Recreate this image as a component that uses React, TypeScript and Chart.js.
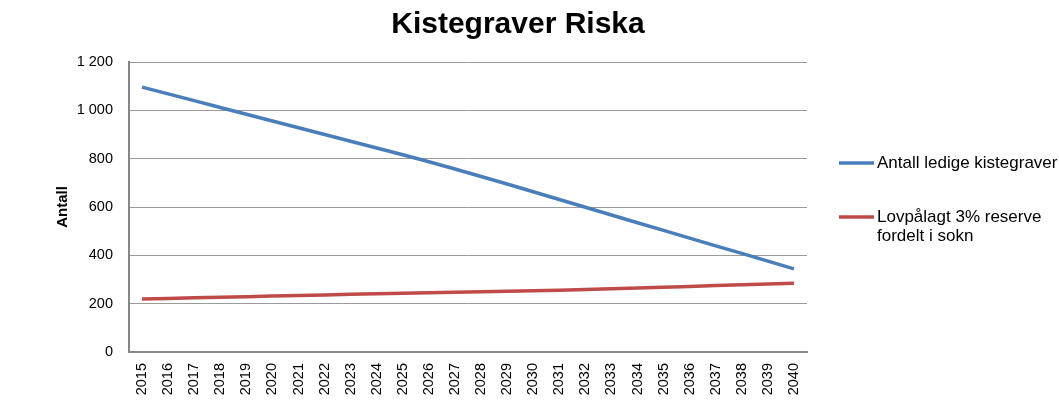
import React, { useEffect, useRef } from "react";
import { Chart, registerables } from "chart.js";

Chart.register(...registerables);

const chartTitle = "Kistegraver Riska";
const yAxisTitle = "Antall";
const years = [
  "2015", "2016", "2017", "2018", "2019", "2020", "2021", "2022", "2023",
  "2024", "2025", "2026", "2027", "2028", "2029", "2030", "2031", "2032",
  "2033", "2034", "2035", "2036", "2037", "2038", "2039", "2040",
];
const seriesNames = ["Antall ledige kistegraver", "Lovpålagt 3% reserve fordelt i sokn"];
const ledigeKistegraver = [
  1096, 1068, 1040, 1012, 984, 956, 928, 900, 872, 844, 816, 787, 757,
  726, 695, 663, 631, 599, 567, 535, 503, 471, 439, 408, 376, 344,
];
const reserve = [
  219, 221, 224, 227, 229, 232, 234, 236, 239, 241, 243, 245, 247,
  249, 251, 253, 256, 259, 262, 265, 268, 271, 275, 278, 281, 284,
];
const yTicks = [0, 200, 400, 600, 800, 1000, 1200];
const seriesColors = ["#4A7EBB", "#BE4B48"];

const FONT = '"Liberation Sans", Arial, sans-serif';

function formatThousands(v: number): string {
  return String(v).replace(/\B(?=(\d{3})+(?!\d))/g, " ");
}

const overlayPlugin = {
  id: "overlay",
  afterDraw(chart: any) {
    const ctx = chart.ctx as CanvasRenderingContext2D;
    ctx.save();
    // Title
    ctx.font = `bold 30px ${FONT}`;
    ctx.fillStyle = "#000";
    ctx.textAlign = "center";
    ctx.textBaseline = "alphabetic";
    ctx.fillText(chartTitle, 518, 33);

    // Legend
    ctx.font = `17px ${FONT}`;
    ctx.textAlign = "left";
    ctx.textBaseline = "middle";
    const startYs = [163, 217];
    const lineH = 19;
    chart.data.datasets.forEach((ds: any, i: number) => {
      const y = startYs[i];
      ctx.strokeStyle = ds.borderColor;
      ctx.lineWidth = 3.5;
      ctx.beginPath();
      ctx.moveTo(839, y);
      ctx.lineTo(874, y);
      ctx.stroke();
      const words = String(ds.label).split(" ");
      const lines: string[] = [];
      let cur = "";
      for (const w of words) {
        const test = cur ? cur + " " + w : w;
        if (cur && ctx.measureText(test).width > 200) {
          lines.push(cur);
          cur = w;
        } else {
          cur = test;
        }
      }
      if (cur) lines.push(cur);
      ctx.fillStyle = "#000";
      lines.forEach((ln, j) => ctx.fillText(ln, 877, y + j * lineH));
    });
    ctx.restore();
  },
};

export default function App() {
  const canvasRef = useRef<HTMLCanvasElement | null>(null);

  useEffect(() => {
    document.body.style.margin = "0";
    const canvas = canvasRef.current;
    if (!canvas) return;
    const chart = new Chart(canvas, {
      type: "line",
      data: {
        labels: years,
        datasets: [
          {
            label: seriesNames[0],
            data: ledigeKistegraver,
            borderColor: seriesColors[0],
            backgroundColor: seriesColors[0],
            borderWidth: 3.5,
            pointRadius: 0,
            tension: 0,
          },
          {
            label: seriesNames[1],
            data: reserve,
            borderColor: seriesColors[1],
            backgroundColor: seriesColors[1],
            borderWidth: 3.5,
            pointRadius: 0,
            tension: 0,
          },
        ],
      },
      options: {
        responsive: false,
        animation: false,
        layout: { padding: { left: 0, right: 252, top: 62, bottom: 0 } },
        plugins: {
          legend: { display: false },
          title: { display: false },
          tooltip: { enabled: false },
        },
        scales: {
          x: {
            type: "category",
            offset: true,
            grid: { display: false, drawTicks: false },
            border: { display: true, color: "#868686", width: 2 },
            ticks: {
              autoSkip: false,
              minRotation: 90,
              maxRotation: 90,
              padding: 11,
              color: "#000",
              font: { family: FONT, size: 14.5 },
            },
            afterFit(scale: any) {
              scale.height = 51;
            },
          },
          y: {
            min: 0,
            max: 1200,
            afterBuildTicks(scale: any) {
              scale.ticks = yTicks.map((v) => ({ value: v }));
            },
            grid: { color: "#9a9a9a", lineWidth: 1, drawTicks: false },
            border: { display: true, color: "#868686", width: 2 },
            ticks: {
              padding: 16,
              color: "#000",
              font: { family: FONT, size: 14.5 },
              callback: (v: any) => formatThousands(Number(v)),
            },
            title: {
              display: true,
              text: yAxisTitle,
              color: "#000",
              font: { family: FONT, size: 15, weight: "bold" },
              padding: { top: 54, bottom: 0 },
            },
            afterFit(scale: any) {
              scale.width = 129;
            },
          },
        },
      },
      plugins: [overlayPlugin],
    });
    return () => chart.destroy();
  }, []);

  return (
    <div style={{ width: 1059, height: 403, position: "relative" }}>
      <canvas ref={canvasRef} width={1059} height={403} style={{ width: 1059, height: 403, display: "block" }} />
    </div>
  );
}
